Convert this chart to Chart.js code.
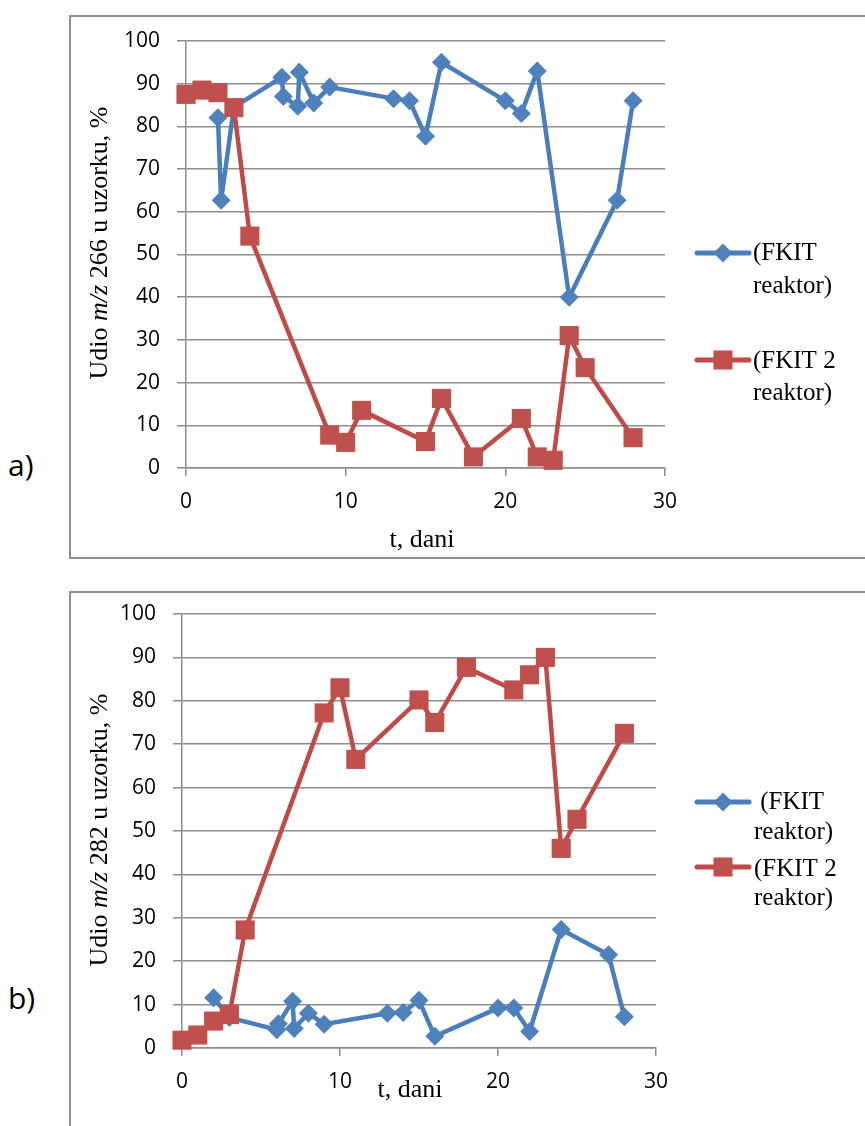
<!DOCTYPE html>
<html><head><meta charset="utf-8">
<script src="https://cdn.jsdelivr.net/npm/chart.js@4.4.1/dist/chart.umd.min.js"></script>
<style>
html,body{margin:0;padding:0;background:#fff;width:865px;height:1126px;overflow:hidden;position:relative}
.frame{position:absolute;border:2px solid #8e8e8e;box-sizing:border-box}
canvas{position:absolute;left:0}
.lab{position:absolute;font-family:'Open Sans',sans-serif;font-size:30px;color:#000;line-height:1}
</style></head><body>
<div class="frame" style="left:69px;top:15px;width:820px;height:544px"></div>
<div class="frame" style="left:69px;top:591px;width:820px;height:580px"></div>
<div class="lab" style="left:8px;top:450px">a)</div>
<div class="lab" style="left:8px;top:983px">b)</div>
<canvas id="c1" width="865" height="560" style="top:0"></canvas>
<canvas id="c2" width="865" height="546" style="top:580px"></canvas>
<script>
// ---- data ----
const xTicks = [0, 10, 20, 30];
const yTicks = [0, 10, 20, 30, 40, 50, 60, 70, 80, 90, 100];

// a) m/z 266
const a_fkit_t  = [2, 2.2, 3, 6, 6.1, 7, 7.1, 8, 9, 13, 14, 15, 16, 20, 21, 22, 24, 27, 28];
const a_fkit_v  = [82, 62.7, 84.5, 91.5, 87, 84.7, 92.7, 85.5, 89.2, 86.5, 86, 77.7, 95, 86, 83, 93, 40, 62.7, 86];
const a_fkit2_t = [0, 1, 2, 3, 4, 9, 10, 11, 15, 16, 18, 21, 22, 23, 24, 25, 28];
const a_fkit2_v = [87.5, 88.5, 87.9, 84.4, 54.3, 7.7, 6, 13.5, 6.2, 16.3, 2.6, 11.6, 2.6, 1.8, 31, 23.5, 7.1];

// b) m/z 282
const b_fkit_t  = [2, 3, 6, 6.1, 7, 7.1, 8, 9, 13, 14, 15, 16, 20, 21, 22, 24, 27, 28];
const b_fkit_v  = [11.6, 7, 4.2, 5.6, 10.8, 4.5, 8, 5.5, 8, 8.2, 11, 2.7, 9.2, 9.2, 3.8, 27.3, 21.5, 7.2];
const b_fkit2_t = [0, 1, 2, 3, 4, 9, 10, 11, 15, 16, 18, 21, 22, 23, 24, 25, 28];
const b_fkit2_v = [1.8, 3, 6.2, 7.7, 27.2, 77.2, 83, 66.5, 80.2, 75, 87.7, 82.5, 86, 90, 46, 52.7, 72.5];

// texts
const xTitle = "t, dani";
const yTitleA = ["Udio ", "m/z", " 266 u uzorku, %"];
const yTitleB = ["Udio ", "m/z", " 282 u uzorku, %"];
const legendA = [["(FKIT", "reaktor)"], ["(FKIT 2", "reaktor)"]];
const legendB = [[" (FKIT", "reaktor)"], ["(FKIT 2", "reaktor)"]];

// ---- styling ----
const BLUE_LINE = '#4A7EBB', BLUE_PT = '#4F81BD';
const RED_LINE = '#BE4B48', RED_PT = '#C0504D';
const GRID = '#8c8c8c';
const SERIF = '"Liberation Serif", "Times New Roman", serif';

function pts(t, v) { return t.map((x, i) => ({x: x, y: v[i]})); }

function drawMarker(ctx, style, x, y, r, color) {
  ctx.fillStyle = color;
  ctx.beginPath();
  if (style === 'rectRot') {
    ctx.moveTo(x, y - r); ctx.lineTo(x + r, y); ctx.lineTo(x, y + r); ctx.lineTo(x - r, y);
  } else {
    const h = r * Math.SQRT1_2;
    ctx.rect(x - h, y - h, 2 * h, 2 * h);
  }
  ctx.closePath();
  ctx.fill();
}

function decoPlugin(cfg) {
  return {
    id: 'deco',
    afterDraw(chart) {
      const ctx = chart.ctx;
      ctx.save();
      ctx.fillStyle = '#000';
      ctx.textBaseline = 'middle';
      // y title (rotated, mixed italics)
      ctx.save();
      ctx.translate(cfg.yTitleX, cfg.yTitleY);
      ctx.rotate(-Math.PI / 2);
      let total = 0;
      const ws = cfg.yTitle.map((p, i) => {
        ctx.font = (i === 1 ? 'italic ' : '') + cfg.titleSize + 'px ' + SERIF;
        const w = ctx.measureText(p).width; total += w; return w;
      });
      let x = -total / 2;
      ctx.textAlign = 'left';
      cfg.yTitle.forEach((p, i) => {
        ctx.font = (i === 1 ? 'italic ' : '') + cfg.titleSize + 'px ' + SERIF;
        ctx.fillText(p, x, 0); x += ws[i];
      });
      ctx.restore();
      // x title
      ctx.font = cfg.titleSize + 'px ' + SERIF;
      ctx.textAlign = 'center';
      ctx.fillText(xTitle, cfg.xTitleX, cfg.xTitleY);
      // legend
      chart.data.datasets.forEach((ds, i) => {
        const L = cfg.legend[i];
        ctx.strokeStyle = ds.borderColor;
        ctx.lineWidth = 5;
        ctx.lineCap = 'round';
        ctx.beginPath();
        ctx.moveTo(L.x1, L.y); ctx.lineTo(L.x2, L.y); ctx.stroke();
        drawMarker(ctx, ds.pointStyle, (L.x1 + L.x2) / 2, L.y, ds.pointRadius, ds.pointBackgroundColor);
        ctx.fillStyle = '#000';
        ctx.font = cfg.legendSize + 'px ' + SERIF;
        ctx.textAlign = 'left';
        cfg.legendText[i].forEach((line, j) => {
          ctx.fillText(line, L.tx, L.ty[j]);
        });
      });
      ctx.restore();
    }
  };
}

function makeChart(id, fkit, fkit2, geom, deco) {
  return new Chart(document.getElementById(id), {
    type: 'scatter',
    data: {
      datasets: [
        { label: 'FKIT reaktor', data: fkit, showLine: true, tension: 0,
          borderColor: BLUE_LINE, borderWidth: 4.5, pointStyle: 'rectRot', pointRadius: 9.5,
          pointBackgroundColor: BLUE_PT, pointBorderColor: BLUE_PT, pointBorderWidth: 0,
          clip: false, order: 1 },
        { label: 'FKIT 2 reaktor', data: fkit2, showLine: true, tension: 0,
          borderColor: RED_LINE, borderWidth: 4.5, pointStyle: 'rect', pointRadius: 13.5,
          pointBackgroundColor: RED_PT, pointBorderColor: RED_PT, pointBorderWidth: 0,
          clip: false, order: 0 }
      ]
    },
    options: {
      responsive: false, animation: false, devicePixelRatio: 1,
      layout: { padding: { left: 0, right: geom.padR, top: geom.padT, bottom: 0 } },
      plugins: { legend: { display: false }, tooltip: { enabled: false } },
      scales: {
        x: {
          type: 'linear', min: 0, max: 30,
          afterBuildTicks: s => { s.ticks = xTicks.map(v => ({value: v})); },
          afterFit: s => { s.height = geom.xH; },
          grid: { drawOnChartArea: false, drawTicks: true, tickLength: 8, color: GRID, lineWidth: 1.5 },
          border: { display: true, color: GRID, width: 1.5 },
          ticks: { padding: 13, color: '#000', font: { family: "'Open Sans'", size: 21 }, maxRotation: 0 }
        },
        y: {
          type: 'linear', min: 0, max: 100,
          afterBuildTicks: s => { s.ticks = yTicks.map(v => ({value: v})); },
          afterFit: s => { s.width = geom.yW; },
          grid: { drawOnChartArea: true, drawTicks: true, tickLength: 9, color: GRID, lineWidth: 1.5 },
          border: { display: true, color: GRID, width: 1.5 },
          ticks: { padding: 17, color: '#000', font: { family: "'Open Sans'", size: 21 } }
        }
      }
    },
    plugins: [decoPlugin(deco)]
  });
}

makeChart('c1', pts(a_fkit_t, a_fkit_v), pts(a_fkit2_t, a_fkit2_v),
  { padR: 200, padT: 41, xH: 92, yW: 186 },
  { yTitle: yTitleA, yTitleX: 100, yTitleY: 243, xTitleX: 422, xTitleY: 540, titleSize: 26,
    legendSize: 25, legendText: legendA,
    legend: [ { x1: 697, x2: 749, y: 253, tx: 753, ty: [253, 286] },
              { x1: 697, x2: 749, y: 360, tx: 753, ty: [361, 393] } ] });

makeChart('c2', pts(b_fkit_t, b_fkit_v), pts(b_fkit2_t, b_fkit2_v),
  { padR: 209, padT: 34, xH: 78, yW: 182 },
  { yTitle: yTitleB, yTitleX: 100, yTitleY: 250, xTitleX: 410, xTitleY: 510, titleSize: 26,
    legendSize: 25, legendText: legendB,
    legend: [ { x1: 697, x2: 749, y: 222, tx: 754, ty: [222, 252] },
              { x1: 697, x2: 749, y: 287, tx: 754, ty: [289, 318] } ] });
</script>
</body></html>
